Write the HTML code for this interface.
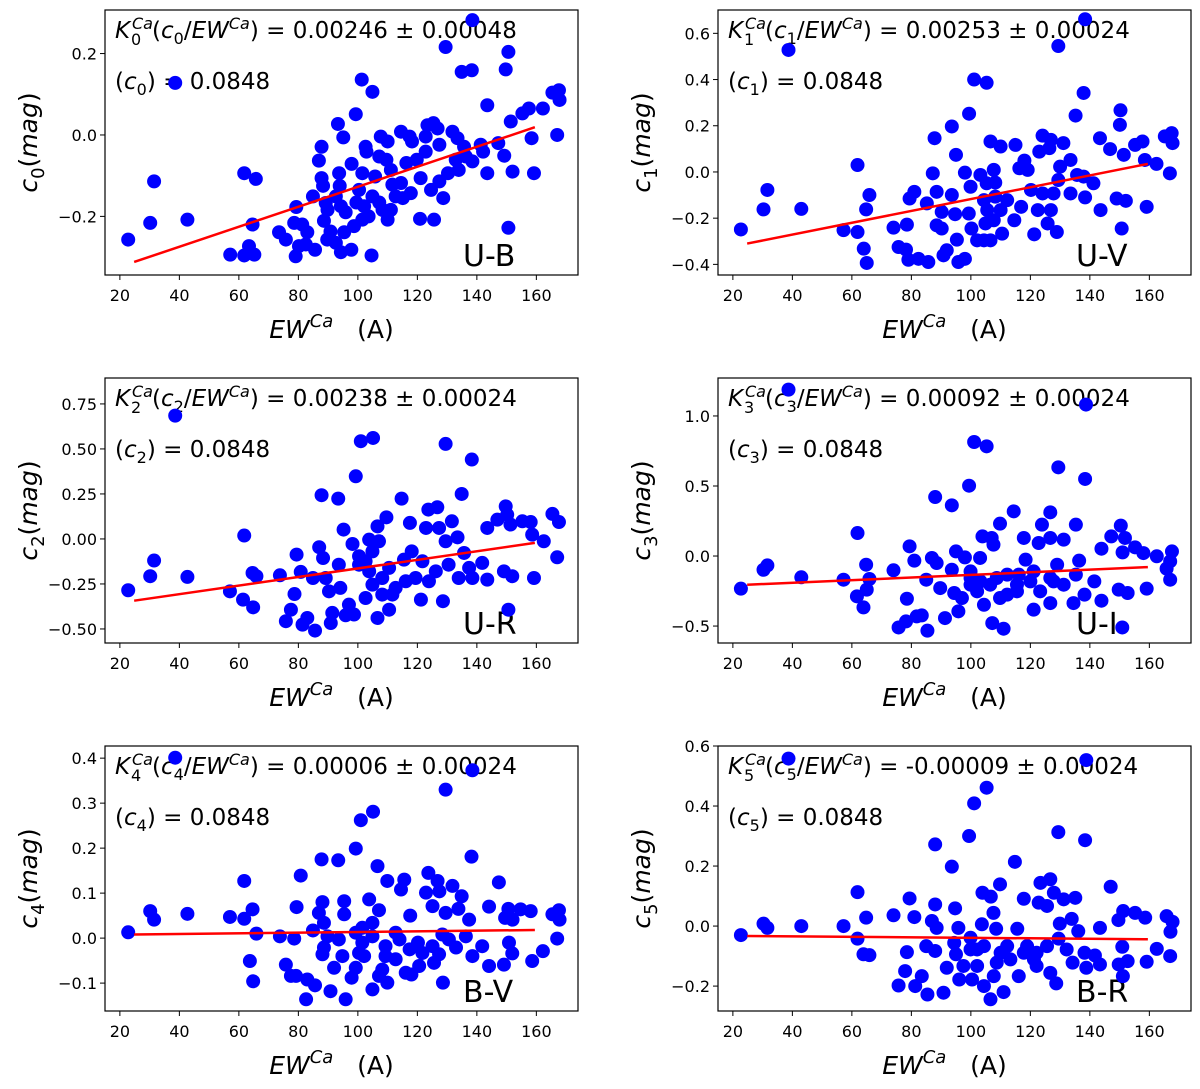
<!DOCTYPE html>
<html><head><meta charset="utf-8">
<style>
html,body{margin:0;padding:0;background:#fff;}
svg{display:block;font-family:"DejaVu Sans","Liberation Sans",sans-serif;}
.tick{font-size:16px;fill:#000;}
.ann{font-size:23px;fill:#000;}
.it{font-style:italic;}
</style></head>
<body>
<svg id="chart" width="1200" height="1089" viewBox="0 0 1200 1089" xmlns="http://www.w3.org/2000/svg"></svg>
<script>
// ---------- data ----------
const ew0=[22.8,30.2,31.5,42.7,38.6,61.8,65.7,64.6,63.4,61.8,65.2,57.1,73.5,75.8,78.6,79.3,81.3,83.0,80.2,79.1,82.5,85.6,84.9,87.8,86.9,87.8,88.3,89.2,89.8,88.6,90.8,89.7,92.6,94.3,95.4,97.8,93.3,95.1,93.7,93.9,92.6,94.3,95.9,98.7,97.9,99.3,101.3,104.9,102.6,102.9,101.5,100.4,99.5,102.1,103.6,101.5,104.6,105.8,104.9,107.2,108.3,110.0,107.7,110.0,107.2,109.6,111.1,111.6,112.7,111.1,114.5,117.4,118.2,116.3,114.5,115.1,117.8,119.8,121.1,120.9,122.8,123.4,125.4,126.8,122.8,124.6,127.4,127.4,128.7,125.6,129.5,131.8,133.5,130.3,133.9,132.9,135.7,136.3,138.5,138.5,134.9,138.3,141.3,142.1,143.5,143.5,147.2,149.2,150.6,149.7,151.4,152.0,150.6,155.3,157.5,158.4,159.2,162.2,165.4,167.6,167.8,167.0];
const c0=[-0.257,-0.216,-0.114,-0.208,0.128,-0.094,-0.108,-0.220,-0.273,-0.296,-0.294,-0.294,-0.239,-0.257,-0.216,-0.177,-0.220,-0.239,-0.273,-0.298,-0.269,-0.282,-0.151,-0.029,-0.063,-0.106,-0.125,-0.167,-0.184,-0.211,-0.237,-0.257,-0.265,-0.288,-0.239,-0.282,0.027,-0.006,-0.094,-0.125,-0.151,-0.175,-0.190,-0.224,-0.071,0.051,0.136,0.106,-0.029,-0.041,-0.094,-0.135,-0.166,-0.175,-0.200,-0.208,-0.296,-0.102,-0.151,-0.166,-0.184,-0.208,-0.004,-0.016,-0.053,-0.061,-0.086,-0.122,-0.151,-0.184,0.008,-0.004,-0.016,-0.069,-0.118,-0.155,-0.143,-0.061,-0.106,-0.206,-0.041,0.024,0.029,0.016,-0.004,-0.135,-0.114,-0.024,-0.155,-0.208,0.216,0.008,-0.008,-0.094,-0.086,-0.061,-0.029,-0.053,-0.065,0.282,0.155,0.159,-0.024,-0.041,0.073,-0.094,-0.020,-0.051,0.204,0.161,0.033,-0.090,-0.228,0.053,0.065,-0.008,-0.094,0.065,0.104,0.110,0.086,0.000];

const ew1=[22.7,30.3,31.6,43.0,38.7,61.9,64.8,65.9,57.2,61.9,64.0,65.0,74.0,78.5,75.7,78.2,79.0,82.4,85.7,79.4,81.0,85.2,87.2,87.8,88.5,90.2,88.5,90.2,90.8,91.9,93.6,95.0,93.6,94.7,95.3,95.8,98.0,98.0,99.4,101.1,105.3,99.9,99.3,100.2,102.1,103.2,105.3,104.4,105.5,104.9,104.4,106.6,110.0,107.7,108.2,108.2,110.0,107.7,110.5,106.6,112.2,115.0,116.3,118.0,119.1,114.6,116.9,120.2,121.3,123.0,124.1,126.9,126.4,122.5,124.1,125.8,126.9,128.9,129.4,131.1,130.0,129.4,127.8,133.5,135.2,135.7,133.5,137.9,138.4,137.9,138.4,141.2,143.4,143.6,146.8,149.0,150.1,150.3,151.4,152.1,150.7,155.2,157.7,158.5,159.1,162.4,165.2,167.5,167.8,166.9];
const c1=[-0.249,-0.162,-0.078,-0.160,0.528,0.030,-0.162,-0.100,-0.252,-0.260,-0.332,-0.394,-0.241,-0.228,-0.325,-0.336,-0.380,-0.376,-0.390,-0.115,-0.086,-0.136,-0.006,0.146,-0.086,-0.173,-0.231,-0.245,-0.361,-0.339,0.197,0.074,-0.100,-0.183,-0.293,-0.390,-0.376,-0.003,0.252,0.400,0.386,-0.064,-0.180,-0.245,-0.296,-0.013,-0.049,-0.122,-0.165,-0.223,-0.296,0.132,0.110,0.009,-0.046,-0.107,-0.165,-0.209,-0.267,-0.296,-0.122,0.117,0.016,0.049,0.009,-0.209,-0.151,-0.078,-0.270,0.088,0.157,0.139,0.103,-0.165,-0.093,-0.223,-0.165,-0.260,0.545,0.125,0.023,-0.035,-0.093,0.052,0.244,-0.013,-0.093,0.342,0.661,-0.020,-0.110,-0.049,0.146,-0.165,0.099,-0.115,0.204,0.267,0.074,-0.125,-0.245,0.117,0.132,0.052,-0.151,0.035,0.154,0.168,0.125,-0.006];

const ew2=[22.8,30.2,31.5,42.7,38.6,61.8,64.6,65.9,57.0,61.4,64.8,73.8,80.8,79.4,78.7,77.5,75.8,81.4,83.0,85.6,84.9,87.0,87.8,88.3,89.2,90.3,93.4,95.2,98.2,93.6,94.1,91.4,90.9,95.9,98.7,99.3,101.0,105.1,103.8,100.4,102.6,107.1,106.6,109.6,104.9,106.6,110.5,108.2,111.6,114.7,117.5,118.1,115.5,116.1,121.2,122.9,123.7,126.7,127.3,131.6,129.5,128.6,129.5,134.9,133.5,135.7,138.3,137.4,138.5,141.8,143.5,143.5,146.9,149.7,150.2,151.3,149.1,151.9,150.6,155.3,158.1,158.6,159.2,162.5,165.4,167.6,167.0,100.4,103.8,110.5,112.7,119.4,123.9,126.2,130.5,133.9,97.0,102.6,108.2,121.7,104.9];
const c2=[-0.285,-0.207,-0.120,-0.211,0.685,0.019,-0.189,-0.207,-0.291,-0.337,-0.380,-0.202,-0.183,-0.087,-0.306,-0.393,-0.457,-0.476,-0.439,-0.509,-0.217,-0.046,0.243,-0.106,-0.217,-0.291,0.224,0.052,-0.028,-0.143,-0.272,-0.411,-0.467,-0.424,-0.420,0.348,0.543,0.561,-0.004,-0.096,-0.124,-0.013,0.070,0.120,-0.254,-0.439,-0.393,-0.217,-0.309,0.224,0.089,-0.069,-0.115,-0.235,-0.337,0.061,0.163,0.176,0.061,0.098,-0.013,-0.346,0.528,0.250,0.009,-0.078,0.441,-0.161,-0.217,-0.133,0.061,-0.226,0.107,0.181,0.135,0.080,-0.180,-0.207,-0.393,0.098,0.094,0.024,-0.217,-0.013,0.139,0.094,-0.102,-0.143,-0.180,-0.161,-0.272,-0.217,-0.235,-0.180,-0.143,-0.217,-0.365,-0.328,-0.309,-0.124,-0.069];

const ew3=[22.7,30.3,31.6,43.0,38.7,61.9,64.8,65.9,57.2,61.7,63.9,65.0,74.0,79.4,81.0,78.5,75.7,78.2,81.8,83.5,85.4,85.0,86.9,88.0,88.5,89.7,91.3,93.6,95.0,98.0,93.6,94.4,95.8,99.4,101.1,105.3,103.9,107.0,107.6,109.8,103.1,99.9,102.1,104.4,107.2,111.0,108.7,109.8,114.4,117.8,118.4,116.1,115.5,121.1,122.8,123.9,126.7,126.7,131.2,129.0,126.7,129.4,135.3,136.4,135.3,134.5,138.4,138.7,138.2,141.5,143.9,143.9,147.2,150.4,151.8,151.0,149.7,152.7,150.9,155.2,158.0,159.1,162.5,167.6,167.0,165.8,167.0,99.9,103.2,106.5,112.2,115.5,120.0,123.3,127.8,131.2,97.0,112.2,121.1,126.7,99.9];
const c3=[-0.233,-0.098,-0.067,-0.152,1.188,0.164,-0.062,-0.164,-0.169,-0.288,-0.367,-0.240,-0.102,0.069,-0.033,-0.305,-0.510,-0.467,-0.431,-0.424,-0.533,-0.169,-0.014,0.421,-0.050,-0.229,-0.443,0.362,0.033,-0.010,-0.098,-0.264,-0.395,0.502,0.814,0.783,0.140,0.129,0.081,0.231,-0.014,-0.157,-0.252,-0.348,-0.479,-0.519,-0.157,-0.300,0.319,0.129,-0.026,-0.133,-0.252,-0.383,0.093,0.224,0.312,0.129,0.117,-0.062,-0.336,0.633,0.224,-0.033,-0.133,-0.336,0.550,1.081,-0.276,-0.181,0.052,-0.319,0.140,0.217,0.129,0.026,-0.240,-0.264,-0.510,0.062,0.021,-0.233,-0.002,0.033,-0.038,-0.090,-0.169,-0.205,-0.181,-0.205,-0.276,-0.205,-0.181,-0.252,-0.181,-0.205,-0.300,-0.133,-0.110,-0.157,-0.110];

const ew4=[22.8,30.2,31.5,42.7,38.6,61.8,64.6,61.8,65.9,57.0,63.7,64.8,73.8,78.6,79.4,80.8,75.8,77.5,79.2,82.6,83.0,85.6,84.9,87.8,88.1,86.9,88.6,89.8,88.6,88.1,92.0,90.8,93.4,95.4,95.4,93.6,94.8,95.9,97.9,99.3,101.0,105.1,106.6,103.8,107.1,104.9,101.5,99.3,102.1,99.3,104.9,109.9,109.3,109.9,108.2,112.7,114.5,115.6,117.6,117.4,118.0,120.2,122.9,123.7,125.1,126.8,127.4,129.5,128.4,127.3,125.6,128.6,129.5,131.8,134.9,133.8,137.4,136.3,133.0,138.5,138.5,138.2,141.8,144.1,144.1,147.4,150.6,149.5,152.0,150.8,151.9,149.1,154.7,158.1,158.6,162.2,165.4,167.6,167.8,167.0,101.5,104.9,109.3,112.7,116.1,121.7,125.1,130.6,107.1,100.4,120.6,114.0];
const c4=[0.013,0.060,0.041,0.054,0.401,0.127,0.064,0.043,0.010,0.047,-0.051,-0.096,0.004,-0.001,0.069,0.139,-0.059,-0.084,-0.084,-0.136,-0.092,-0.105,0.017,0.175,0.080,0.056,0.034,0.004,-0.021,-0.036,-0.066,-0.118,0.173,0.082,0.053,-0.003,-0.040,-0.136,-0.088,0.199,0.262,0.281,0.160,0.086,0.062,0.034,0.023,0.012,-0.040,-0.066,-0.114,0.127,-0.040,-0.099,-0.070,0.012,0.108,0.130,0.050,-0.025,-0.081,-0.010,0.101,0.145,0.071,0.127,0.104,0.056,0.008,-0.036,-0.055,-0.099,0.330,0.116,0.093,0.065,0.041,0.004,-0.021,-0.040,0.373,0.181,-0.018,0.070,-0.062,0.124,0.065,0.045,0.041,-0.010,-0.034,-0.059,0.064,0.060,-0.051,-0.029,0.053,0.062,0.041,-0.001,-0.010,0.004,-0.018,-0.047,-0.077,-0.033,-0.018,-0.003,-0.084,-0.033,-0.062,-0.003];

const ew5=[22.7,30.3,31.6,43.0,38.7,61.9,64.8,61.9,63.9,65.9,57.2,74.0,79.4,81.0,78.5,77.9,75.7,81.3,83.5,85.4,85.0,88.0,88.0,86.9,88.5,88.0,91.9,90.8,93.6,94.7,95.8,94.4,95.0,96.1,99.4,101.1,105.3,109.8,103.9,106.7,107.6,103.7,108.5,99.9,102.1,100.4,104.4,106.6,111.0,108.7,112.2,114.8,117.8,115.6,117.8,116.1,122.8,123.4,126.7,125.6,127.9,131.2,129.9,129.5,122.1,126.7,128.7,129.4,133.9,135.1,136.1,134.2,138.2,138.8,138.4,138.8,141.7,143.4,143.4,147.0,149.6,151.2,150.9,152.7,149.7,151.1,155.2,158.6,159.1,162.5,165.8,167.8,167.1,167.0,99.9,104.4,110.0,113.3,118.9,122.1,125.6,132.2,102.1,107.7,121.2,97.5];
const c5=[-0.030,0.008,-0.006,0.000,0.558,0.113,0.028,-0.042,-0.094,-0.097,0.000,0.036,0.092,0.030,-0.087,-0.150,-0.198,-0.200,-0.167,-0.228,-0.067,0.272,0.072,0.017,-0.006,-0.083,-0.139,-0.222,0.198,0.059,-0.006,-0.056,-0.094,-0.178,0.300,0.409,0.461,0.139,0.111,0.098,0.044,0.006,-0.009,-0.039,-0.078,-0.178,-0.200,-0.244,-0.220,-0.122,-0.067,0.214,0.091,-0.009,-0.089,-0.167,0.078,0.144,0.156,0.067,0.111,0.089,0.008,-0.042,-0.133,-0.156,-0.191,0.313,0.024,0.094,-0.017,-0.122,-0.089,-0.139,0.286,0.553,-0.098,-0.006,-0.128,0.131,0.020,0.050,-0.069,-0.117,-0.128,-0.167,0.044,0.028,-0.119,-0.076,0.033,0.014,-0.019,-0.100,-0.078,-0.067,-0.089,-0.111,-0.067,-0.089,-0.067,-0.078,-0.133,-0.167,-0.111,-0.133];

// fit line endpoints
const fitX=[24.8,159.5];
const fitY=[[-0.312,0.019],[-0.310,0.035],[-0.343,-0.022],[-0.205,-0.079],[0.008,0.018],[-0.033,-0.044]];
const xTicks=[20,40,60,80,100,120,140,160];
const yTicks=[[-0.2,0.0,0.2],[-0.4,-0.2,0.0,0.2,0.4,0.6],[-0.5,-0.25,0,0.25,0.5,0.75],[-0.5,0,0.5,1.0],[-0.1,0,0.1,0.2,0.3,0.4],[-0.2,0,0.2,0.4,0.6]];
const yDigits=[1,1,2,1,1,1];
const yDomains=[[-0.344,0.307],[-0.446,0.701],[-0.578,0.894],[-0.621,1.271],[-0.162,0.427],[-0.283,0.600]];
const kVals=["0.00246 ± 0.00048","0.00253 ± 0.00024","0.00238 ± 0.00024","0.00092 ± 0.00024","0.00006 ± 0.00024","-0.00009 ± 0.00024"];
const bands=["U-B","U-V","U-R","U-I","B-V","B-R"];
const xs=[ew0,ew1,ew2,ew3,ew4,ew5];
const ys=[c0,c1,c2,c3,c4,c5];
const xDomain=[15.0,174.0];

// ---------- drawing ----------
const NS="http://www.w3.org/2000/svg";
const svg=document.getElementById('chart');
function mk(tag,attrs,parent){const e=document.createElementNS(NS,tag);for(const k in attrs)e.setAttribute(k,attrs[k]);(parent||svg).appendChild(e);return e;}
const lefts=[105,718], tops=[10,378,746], W=473, H=265;

for(let p=0;p<6;p++){
  const L=lefts[p%2], T=tops[Math.floor(p/2)];
  const g=mk('g',{});
  
  
  const sx=v=>L+(v-xDomain[0])/(xDomain[1]-xDomain[0])*W;
  const [y0,y1]=yDomains[p];
  const sy=v=>T+H-(v-y0)/(y1-y0)*H;
  const clip=mk('clipPath',{id:'clip'+p},g);
  mk('rect',{x:L,y:T,width:W,height:H},clip);

  const ax=L+10, ay=T+28;
  const t1=mk('text',{x:ax,y:ay,class:'ann'},g);
  
  
  t1.innerHTML='<tspan class="it" x="'+ax+'" y="'+ay+'">K</tspan>'+
    '<tspan class="it" font-size="16" x="'+(ax+17)+'" y="'+(ay-9)+'">Ca</tspan>'+
    '<tspan font-size="16" x="'+(ax+16)+'" y="'+(ay+7)+'">'+p+'</tspan>'+
    '<tspan x="'+(ax+37)+'" y="'+ay+'">(</tspan><tspan class="it">c</tspan><tspan font-size="16" dy="6">'+p+'</tspan><tspan dy="-6">/</tspan><tspan class="it">EW</tspan><tspan class="it" font-size="16" dy="-9">Ca</tspan><tspan dy="9">) = '+kVals[p]+'</tspan>';
  const t2=mk('text',{x:L+10,y:T+79,class:'ann'},g);
  
  
  t2.innerHTML='(<tspan class="it">c</tspan><tspan font-size="16" dy="6">'+p+'</tspan><tspan dy="-6">) = 0.0848</tspan>';
  const bl=mk('text',{x:L+358,y:T+256,'font-size':30},g);
  
  
  bl.textContent=bands[p];

  const pg=mk('g',{'clip-path':'url(#clip'+p+')'},g);
  for(let i=0;i<xs[p].length;i++){
    const c=mk('circle',{cx:sx(xs[p][i]),cy:sy(ys[p][i]),r:7,fill:'#0000ff'},pg);
    
    
  }
  const ln=mk('line',{x1:sx(fitX[0]),y1:sy(fitY[p][0]),x2:sx(fitX[1]),y2:sy(fitY[p][1]),stroke:'#ff0000','stroke-width':2.5},g);
  
  

  const fr=mk('rect',{x:L,y:T,width:W,height:H,fill:'none',stroke:'#000','stroke-width':1.2},g);
  
  

  xTicks.forEach(v=>{
    const x=sx(v);
    mk('line',{x1:x,y1:T+H,x2:x,y2:T+H+5,stroke:'#000','stroke-width':1},g);
    const tx=mk('text',{x:x,y:T+H+26,class:'tick','text-anchor':'middle'},g);
    
    
    tx.textContent=v;
  });
  yTicks[p].forEach(v=>{
    const y=sy(v);
    mk('line',{x1:L-5,y1:y,x2:L,y2:y,stroke:'#000','stroke-width':1},g);
    const ty=mk('text',{x:L-8,y:y+6,class:'tick','text-anchor':'end'},g);
    
    
    ty.textContent=(v<0?'\u2212':'')+Math.abs(v).toFixed(yDigits[p]);
  });
  const xt=mk('text',{x:L+W/2-10,y:T+H+63,'font-size':25,'text-anchor':'middle'},g);
  
  
  xt.innerHTML='<tspan class="it">EW</tspan><tspan class="it" font-size="18" dy="-11">Ca</tspan><tspan dy="11">\u00a0\u00a0\u00a0(A)</tspan>';
  const ycx=L-68, ycy=T+H/2;
  const yt=mk('text',{x:ycx,y:ycy,'font-size':25,'text-anchor':'middle',transform:'rotate(-90 '+ycx+' '+ycy+')'},g);
  
  
  yt.innerHTML='<tspan class="it">c</tspan><tspan font-size="18" dy="7">'+p+'</tspan><tspan dy="-7">(</tspan><tspan class="it">mag</tspan>)';
}
</script>
</body></html>
